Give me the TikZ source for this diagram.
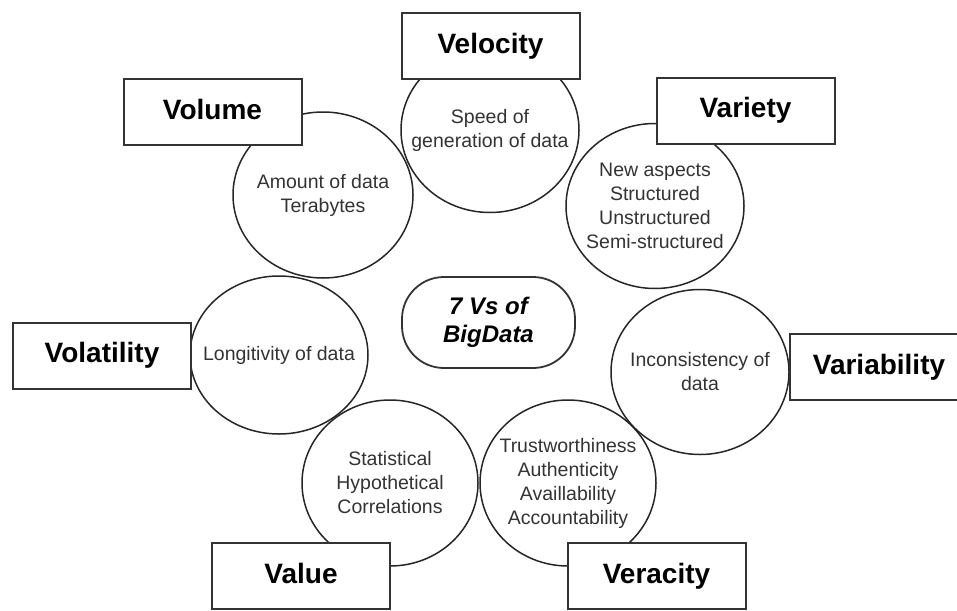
\documentclass[tikz,border=0pt]{standalone}
\usepackage{fontspec}
\setmainfont{Liberation Sans}
\usetikzlibrary{shapes.geometric}

\begin{document}
\begin{tikzpicture}[
        x=1pt, y=-1pt,
        oval/.style={ellipse, draw=black!85, line width=1.5pt, minimum width=178pt, minimum height=165pt, inner sep=0pt},
        desc/.style={align=center, text=black!80, font=\fontsize{19.5}{24}\selectfont},
        vbox/.style={rectangle, draw=black!80, fill=white, line width=2pt, minimum width=178pt, minimum height=66pt, text height=20pt, text depth=6pt, font=\fontsize{28}{32}\selectfont\bfseries},
        core/.style={rectangle, rounded corners=42pt, draw=black!80, line width=1.8pt, minimum width=173pt, minimum height=91pt, align=center, font=\fontsize{24}{28}\selectfont\bfseries\itshape}
    ]
        \useasboundingbox (0,0) rectangle (957,610);

        % Circulos
        \node[oval] (velc) at (490,130) {};
        \node[oval, minimum width=180pt, minimum height=166pt] (volc) at (323,195) {};
        \node[oval] (varc) at (655,206) {};
        \node[oval, minimum height=158pt] (volac) at (279,355) {};
        \node[oval] (varic) at (700,372) {};
        \node[oval, minimum width=176pt, minimum height=166pt] (valc) at (390,483) {};
        \node[oval, minimum width=176pt, minimum height=166pt] (verc) at (568,483) {};

        % Textos
        \node[desc] (velt) at (velc) {Speed of\\generation of data};
        \node[desc] (volt) at (volc) {Amount of data\\Terabytes};
        \node[desc] (vart) at (varc) {New aspects\\Structured\\Unstructured\\Semi-structured};
        \node[desc] (volat) at (volac) {Longitivity of data};
        \node[desc] (varit) at (varic) {Inconsistency of\\data};
        \node[desc] (valt) at (valc) {Statistical\\Hypothetical\\Correlations};
        \node[desc] (vert) at (verc) {Trustworthiness\\Authenticity\\Availlability\\Accountability};

        % Centro
        \node[core] (bigdata) at (488.5,322.5) {7 Vs of\\BigData};

        % Cajas
        \node[vbox] (velocity) at (490.5,46) {Velocity};
        \node[vbox] (volume) at (212.5,112) {Volume};
        \node[vbox] (variety) at (745.5,110.5) {Variety};
        \node[vbox] (volatility) at (102,355.5) {Volatility};
        \node[vbox] (variability) at (879,367) {Variability};
        \node[vbox] (value) at (301,576) {Value};
        \node[vbox] (veracity) at (656.5,576) {Veracity};
    \end{tikzpicture}
\end{document}
